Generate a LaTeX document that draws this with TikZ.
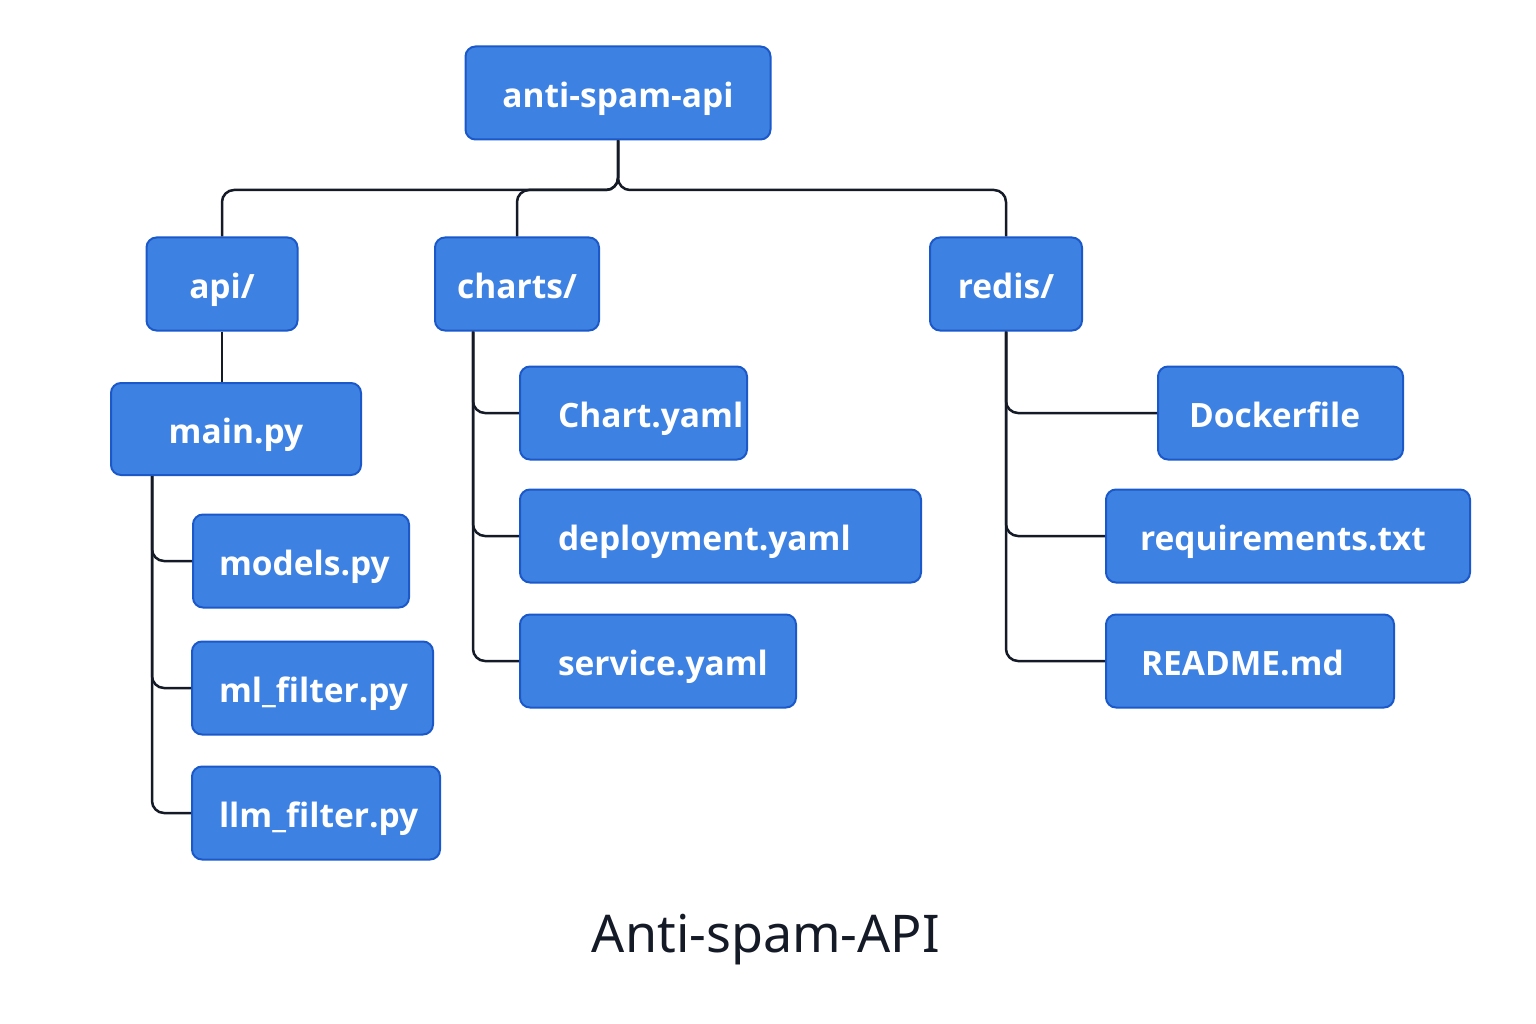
\documentclass[tikz,border=0pt]{standalone}
\usepackage{fontspec}
\setmainfont{Noto Sans}
\newfontfamily\boxfont{Open Sans}
\usepackage{tikz}
\usetikzlibrary{arrows}

\definecolor{boxfill}{HTML}{3D82E2}
\definecolor{boxline}{HTML}{1B58C9}
\definecolor{wirecol}{HTML}{141A26}

\begin{document}
\begin{tikzpicture}
    [x=1pt,y=-1pt,
      box/.style={draw=boxline,fill=boxfill,line width=2pt,rounded corners=10pt,
        text=white,font=\boxfont\bfseries\fontsize{33.5}{38}\selectfont,minimum height=93pt,
        text height=34pt,text depth=5pt},
      leaf/.style={box,anchor=west,align=left},
      wire/.style={draw=wirecol,line width=2.5pt,rounded corners=12pt}]
      \useasboundingbox (0,0) rectangle (1536,1024);

      \node[box,minimum width=305pt] (root) at (618,93) {anti-spam-api};

      \node[box,minimum width=151pt] (api) at (222,284) {api/};
      \node[box,minimum width=164pt] (charts) at (517,284) {charts/};
      \node[box,minimum width=152pt] (redis) at (1006,284) {redis/};

      \node[box,minimum width=250pt,minimum height=92pt] (main) at (236,429) {main.py};
      \node[leaf,text width=164pt,inner xsep=26pt] (models) at (192,561) {models.py};
      \node[leaf,text width=187pt,inner xsep=27pt] (mlfilter) at (191,688) {ml\_filter.py};
      \node[leaf,text width=194pt,inner xsep=27pt] (llmfilter) at (191,813) {llm\_filter.py};

      \node[leaf,text width=151pt,inner xsep=38pt] (chartyaml) at (519,413) {Chart.yaml};
      \node[leaf,text width=325pt,inner xsep=38pt] (deployment) at (519,536) {deployment.yaml};
      \node[leaf,text width=200pt,inner xsep=38pt] (service) at (519,661) {service.yaml};

      \node[leaf,text width=183pt,inner xsep=31pt] (dockerfile) at (1157,413) {Dockerfile};
      \node[leaf,text width=296pt,inner xsep=34pt] (requirements) at (1105,536) {requirements.txt};
      \node[leaf,text width=218pt,inner xsep=35pt] (readme) at (1105,661) {README.md};

      \node[text=wirecol,font=\fontsize{52}{60}\selectfont] (title) at (766,940) {Anti-spam-API};

      % junctions
      \coordinate (bar) at (618,190);
      \coordinate (mainstem) at ([xshift=42pt]main.south west);
      \coordinate (chartstem) at ([xshift=39pt]charts.south west);
      \coordinate (redisstem) at (redis.south);

      \foreach \to in {api,charts,redis}
	\draw[wire] (root.south) -- (bar) -| (\to.north);
      \draw[wire] (api.south) -- (api.south |- main.north);

      \foreach \from/\to in {
	  mainstem/models,mainstem/mlfilter,mainstem/llmfilter,
	  chartstem/chartyaml,chartstem/deployment,chartstem/service,
	  redisstem/dockerfile,redisstem/requirements,redisstem/readme}
	\draw[wire] (\from) |- (\to.west);

    \end{tikzpicture}
\end{document}
